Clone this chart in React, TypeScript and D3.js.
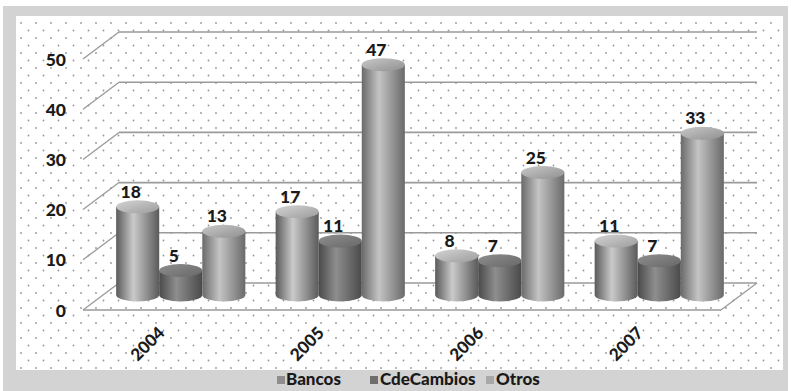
import React from "react";
import * as d3 from "d3";

const years = ["2004", "2005", "2006", "2007"];
const seriesNames = ["Bancos", "CdeCambios", "Otros"];
const bancos = [18, 17, 8, 11];
const cdeCambios = [5, 11, 7, 7];
const otros = [13, 47, 25, 33];
const yTicks = [0, 10, 20, 30, 40, 50];

const seriesValues = [bancos, cdeCambios, otros];
const shades = [
  { edge: "#5a5a5a", mid: "#cacaca", top0: "#d4d4d4", top1: "#9c9c9c", legend: "#8e8e8e" },
  { edge: "#4a4a4a", mid: "#8e8e8e", top0: "#8e8e8e", top1: "#686868", legend: "#6e6e6e" },
  { edge: "#6a6a6a", mid: "#c4c4c4", top0: "#c8c8c8", top1: "#909090", legend: "#a8a8a8" },
];

export default function App() {
  const W = 791, H = 391;
  const depthX = 36, depthY = 27;
  const backLeft = 119, backRight = 757;
  const yBack = d3.scaleLinear().domain([0, 50]).range([283, 32]);
  const yBar = d3.scaleLinear().domain([0, 50]).range([295, 50]);
  const x0 = d3.scaleBand<string>().domain(years).range([backLeft - depthX / 2, backRight - depthX / 2]).paddingInner(0.19).paddingOuter(0.095);
  const x1 = d3.scaleBand<string>().domain(seriesNames).range([0, x0.bandwidth()]).padding(0);
  const ry = 6.5;
  const font = "Lato, 'Open Sans', sans-serif";

  const dots: JSX.Element[] = [];
  for (let y = 23, r = 0; y < 370; y += 7.5, r++) {
    for (let x = 21 + (r % 2) * 7.5; x < 783; x += 15) {
      dots.push(<circle key={`${x}-${y}`} cx={x} cy={y} r={0.9} fill="#969696" />);
    }
  }

  const bars: JSX.Element[] = [];
  const labels: JSX.Element[] = [];
  years.forEach((yr, gi) => {
    seriesNames.forEach((s, si) => {
      const v = seriesValues[si][gi];
      const left = (x0(yr) as number) + (x1(s) as number);
      const bw = x1.bandwidth();
      const rx = bw / 2;
      const cx = left + rx;
      const base = yBar(0);
      const top = yBar(v);
      const d = `M${left},${top} L${left},${base} A${rx},${ry} 0 0 0 ${left + bw},${base} L${left + bw},${top} Z`;
      bars.push(
        <g key={`${yr}-${s}`}>
          <path d={d} fill={`url(#body${si})`} />
          <ellipse cx={cx} cy={top} rx={rx} ry={ry} fill={`url(#top${si})`} />
        </g>
      );
      labels.push(
        <text key={`l${yr}-${s}`} x={cx - 7} y={top - 9} textAnchor="middle" fontFamily={font} fontWeight={900} fontSize={17.5} fill="#1a1a1a">
          {v}
        </text>
      );
    });
  });

  const legendPos = [
    { mx: 277, tx: 286 },
    { mx: 370, tx: 380 },
    { mx: 486, tx: 496 },
  ];

  return (
    <svg width={W} height={H} style={{ position: "absolute", left: 0, top: 0, background: "#fff" }}>
      <defs>
        {shades.map((c, i) => (
          <linearGradient key={`b${i}`} id={`body${i}`} x1="0" x2="1" y1="0" y2="0">
            <stop offset="0" stopColor={c.edge} />
            <stop offset="0.4" stopColor={c.mid} />
            <stop offset="1" stopColor={c.edge} />
          </linearGradient>
        ))}
        {shades.map((c, i) => (
          <linearGradient key={`t${i}`} id={`top${i}`} x1="0" x2="1" y1="0" y2="1">
            <stop offset="0" stopColor={c.top0} />
            <stop offset="1" stopColor={c.top1} />
          </linearGradient>
        ))}
      </defs>
      <rect x={3} y={6} width={785} height={385} fill="#d3d3d3" />
      <rect x={16} y={16} width={767} height={354} fill="#ffffff" />
      {dots}
      {yTicks.map((t) => (
        <g key={t}>
          <line x1={backLeft} x2={backRight} y1={yBack(t)} y2={yBack(t)} stroke="#9a9a9a" strokeWidth={1.6} />
          <line x1={backLeft - depthX} y1={yBack(t) + depthY} x2={backLeft} y2={yBack(t)} stroke="#9a9a9a" strokeWidth={1.3} />
          <text x={66} y={yBack(t) + depthY} textAnchor="end" dominantBaseline="central" fontFamily={font} fontWeight={900} fontSize={17.5} fill="#1a1a1a">
            {t}
          </text>
        </g>
      ))}
      <line x1={backLeft - depthX} x2={backRight - depthX} y1={yBack(0) + depthY} y2={yBack(0) + depthY} stroke="#9a9a9a" strokeWidth={1.6} />
      <line x1={backRight - depthX} y1={yBack(0) + depthY} x2={backRight} y2={yBack(0)} stroke="#9a9a9a" strokeWidth={1.3} />
      {bars}
      {labels}
      {years.map((yr) => {
        const ax = (x0(yr) as number) + x0.bandwidth() / 2 - depthX / 2 + 3;
        const ay = 334;
        return (
          <text key={yr} x={ax} y={ay} textAnchor="end" transform={`rotate(-45 ${ax} ${ay})`} fontFamily={font} fontWeight={900} fontSize={17} fill="#1a1a1a">
            {yr}
          </text>
        );
      })}
      {seriesNames.map((s, i) => (
        <g key={s}>
          <rect x={legendPos[i].mx} y={376} width={8} height={8} fill={shades[i].legend} />
          <text x={legendPos[i].tx} y={385} fontFamily={font} fontWeight={900} fontSize={17} fill="#1a1a1a">
            {s}
          </text>
        </g>
      ))}
    </svg>
  );
}
